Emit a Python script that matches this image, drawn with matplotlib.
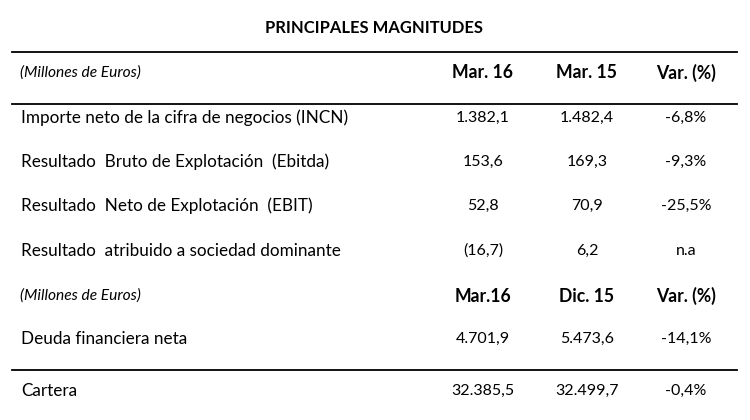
import matplotlib.pyplot as plt

plt.rcParams['font.family'] = ['Lato', 'DejaVu Sans']

title = "PRINCIPALES MAGNITUDES"
unit_label = "(Millones de Euros)"

# first block
headers_1 = ["Mar. 16", "Mar. 15", "Var. (%)"]
labels_1 = [
    "Importe neto de la cifra de negocios (INCN)",
    "Resultado  Bruto de Explotación  (Ebitda)",
    "Resultado  Neto de Explotación  (EBIT)",
    "Resultado  atribuido a sociedad dominante",
]
mar16 = ["1.382,1", "153,6", "52,8", "(16,7)"]
mar15 = ["1.482,4", "169,3", "70,9", "6,2"]
var_1 = ["-6,8%", "-9,3%", "-25,5%", "n.a"]

# second block
headers_2 = ["Mar.16", "Dic. 15", "Var. (%)"]
labels_2 = ["Deuda financiera neta", "Cartera"]
mar16_b = ["4.701,9", "32.385,5"]
dic15 = ["5.473,6", "32.499,7"]
var_2 = ["-14,1%", "-0,4%"]

fig = plt.figure(figsize=(7.5, 4.2), dpi=100)
ax = fig.add_axes([0, 0, 1, 1])
ax.set_xlim(0, 750)
ax.set_ylim(420, 0)
ax.axis('off')

col_x = [483, 587, 686]
fs_label = 12.3
fs_num = 11.5

ax.text(374, 28, title, ha='center', va='center', fontsize=11.9, fontweight='bold')

# rules
for y in [52, 104, 370]:
    ax.plot([12, 737], [y, y], color='black', lw=1.3)

def header(y, heads):
    ax.text(20, y, unit_label, ha='left', va='center', fontsize=11.2, style='italic')
    for x, h in zip(col_x, heads):
        ax.text(x, y, h, ha='center', va='center', fontsize=12.7, fontweight='bold')

def rows(ys, labels, *cols):
    for i, y in enumerate(ys):
        ax.text(21, y, labels[i], ha='left', va='center', fontsize=fs_label)
        for x, c in zip(col_x, cols):
            ax.text(x, y, c[i], ha='center', va='center', fontsize=fs_num)

header(73, headers_1)
rows([118, 162, 206, 251], labels_1, mar16, mar15, var_1)
header(296, headers_2)
rows([339, 391], labels_2, mar16_b, dic15, var_2)

fig.savefig('out.png', dpi=100, facecolor='white')
